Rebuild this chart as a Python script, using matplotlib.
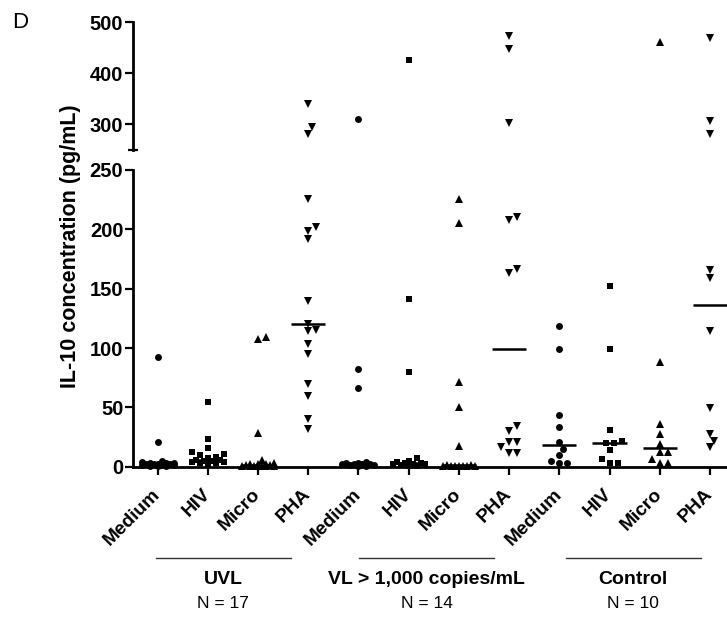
import numpy as np
import matplotlib.pyplot as plt
from matplotlib.transforms import blended_transform_factory

plt.rcParams['font.family'] = ['Liberation Sans', 'DejaVu Sans']

# categories
conditions = ["Medium", "HIV", "Micro", "PHA"]
groups = ["UVL", "VL > 1,000 copies/mL", "Control"]
group_n = [17, 14, 10]
markers = ["o", "s", "^", "v"]

# IL-10 values (pg/mL)
uvl_medium = [92.7, 20.8, 5.0, 4.0, 3.5, 3.0, 3.0, 2.5, 2.5, 2.0, 2.0, 2.0, 1.5, 1.5, 1.0, 1.0, 1.0]
uvl_hiv = [54.3, 23.6, 16.0, 12.1, 10.7, 9.9, 8.0, 7.0, 6.0, 6.0, 5.0, 5.0, 4.0, 4.0, 3.0, 3.0, 2.0]
uvl_micro = [109.5, 107.6, 28.1, 6.0, 3.0, 2.5, 2.0, 2.0, 1.5, 1.5, 1.0, 1.0, 1.0, 0.5, 0.5, 0.5, 0.5]
uvl_pha = [339.3, 294.3, 281.2, 225.6, 202.2, 198.9, 191.6, 139.9, 120.2, 115.2, 114.3, 103.1, 95.0,
           69.4, 59.6, 39.9, 31.8]
vl_medium = [310.5, 82.3, 66.1, 4.0, 3.0, 3.0, 2.5, 2.0, 2.0, 2.0, 1.5, 1.5, 1.0, 1.0]
vl_hiv = [425.8, 141.0, 79.5, 7.0, 5.0, 4.0, 3.0, 3.0, 2.5, 2.0, 2.0, 1.5, 1.0, 1.0]
vl_micro = [225.3, 205.6, 71.6, 50.6, 17.7, 1.5, 1.5, 1.0, 1.0, 1.0, 0.5, 0.5, 0.5, 0.5]
vl_pha = [473.2, 447.3, 303.3, 210.7, 207.9, 166.8, 163.5, 34.3, 30.3, 21.1, 21.1, 16.3, 11.8, 11.8]
ctrl_medium = [118.8, 99.4, 43.6, 33.7, 21.1, 14.7, 9.6, 5.1, 3.4, 3.4]
ctrl_hiv = [152.3, 99.4, 30.9, 21.9, 19.7, 19.7, 14.1, 6.2, 2.9, 2.9]
ctrl_micro = [461.5, 88.0, 35.7, 27.6, 19.1, 12.6, 12.6, 6.2, 3.4, 3.0]
ctrl_pha = [469.3, 307.2, 281.2, 165.7, 158.7, 114.3, 49.7, 27.6, 21.9, 16.9]

series = [uvl_medium, uvl_hiv, uvl_micro, uvl_pha,
          vl_medium, vl_hiv, vl_micro, vl_pha,
          ctrl_medium, ctrl_hiv, ctrl_micro, ctrl_pha]

BREAK = 250
W, H = 727, 618
PX_X = 50.2          # pixels per category
PX_LO = 296.7 / 250  # pixels per unit, lower axis
PX_HI = 128 / 250    # pixels per unit, upper axis


def swarm(values):
    # simple beeswarm in pixel space, offsets returned in category units
    ypx = [v * PX_LO if v <= BREAK else 1000 + (v - BREAK) * PX_HI for v in values]
    order = np.argsort(ypx)
    cand = [0, 4, -4, 8, -8, 12, -12, 16, -16]
    placed = []
    offs = np.zeros(len(values))
    for i in order:
        best, best_d = 0, -1
        for c in cand:
            d = min([np.hypot(c - px, ypx[i] - py) for px, py in placed] + [99])
            if d >= 7:
                best = c
                break
            if d > best_d:
                best, best_d = c, d
        placed.append((best, ypx[i]))
        offs[i] = best / PX_X
    return offs


fig = plt.figure(figsize=(W / 100, H / 100), dpi=100)
ax = fig.add_axes([133 / W, 151.3 / H, 594 / W, 296.7 / H])
ax_top = fig.add_axes([133 / W, 468 / H, 594 / W, 128 / H])

xlim = (-0.49, 11.34)
for a in (ax, ax_top):
    a.set_xlim(*xlim)
    for s in ("top", "right"):
        a.spines[s].set_visible(False)
    a.spines["left"].set_linewidth(2)
    a.patch.set_alpha(0)

ax.spines["bottom"].set_linewidth(2)
ax_top.spines["bottom"].set_visible(False)
ax_top.set_xticks([])

ax.set_ylim(0, BREAK)
ax_top.set_ylim(BREAK, 500)
ax.set_yticks(range(0, 251, 50))
ax_top.set_yticks([300, 400, 500])
ax.set_yticks([BREAK], minor=True)
ax_top.set_yticks([BREAK], minor=True)

ax.tick_params(axis="y", which="major", direction="out", length=6, width=1.6, pad=1,
               labelsize=14.5)
ax.tick_params(axis="y", which="minor", direction="in", length=5, width=1.6)
ax_top.tick_params(axis="y", which="major", direction="out", length=6, width=1.6, pad=1,
                   labelsize=14.5)
ax_top.tick_params(axis="y", which="minor", direction="inout", length=7.5, width=1.6)
for lab in ax.get_yticklabels() + ax_top.get_yticklabels():
    lab.set_fontweight("bold")

ax.set_xticks(range(12))
ax.set_xticklabels(conditions * 3, rotation=45, ha="right", va="center",
                   rotation_mode="anchor", fontweight="bold", fontsize=13.8)
ax.tick_params(axis="x", direction="out", length=6, width=1.6, pad=12)

for i, vals in enumerate(series):
    vals = np.array(vals)
    xs = i + swarm(vals)
    mk = markers[i % 4]
    lo = vals <= BREAK
    ms = 6 if mk in ("^", "v") else 5
    ax.plot(xs[lo], vals[lo], mk, color="black", ms=ms, mew=0, clip_on=False, zorder=3)
    ax_top.plot(xs[~lo], vals[~lo], mk, color="black", ms=ms, mew=0, clip_on=False, zorder=3)
    med = np.median(vals)
    ax.hlines(med, i - 0.34, i + 0.34, color="black", lw=1.8, zorder=2)

# y label and panel letter
fig.text(71 / W, 1 - 246 / H, "IL-10 concentration (pg/mL)", rotation=90,
         ha="center", va="center", fontsize=15.5, fontweight="bold")
fig.text(12 / W, 1 - 23 / H, "D", fontsize=16, va="center", ha="left")

# group brackets below the axis
trans = blended_transform_factory(ax.transData, fig.transFigure)
spans = [(-0.04, 2.66), (4.02, 6.70), (8.13, 10.82)]
for (x0, x1), name, n in zip(spans, groups, group_n):
    ax.plot([x0, x1], [1 - 557.7 / H] * 2, color="#333333", lw=1.0,
            transform=trans, clip_on=False)
    xc = (x0 + x1) / 2
    ax.text(xc, 1 - 579 / H, name, transform=trans, ha="center", va="center",
            fontsize=14, fontweight="bold")
    ax.text(xc, 1 - 604 / H, f"N = {n}", transform=trans, ha="center", va="center",
            fontsize=12.5)

fig.savefig("out.png", dpi=100)
